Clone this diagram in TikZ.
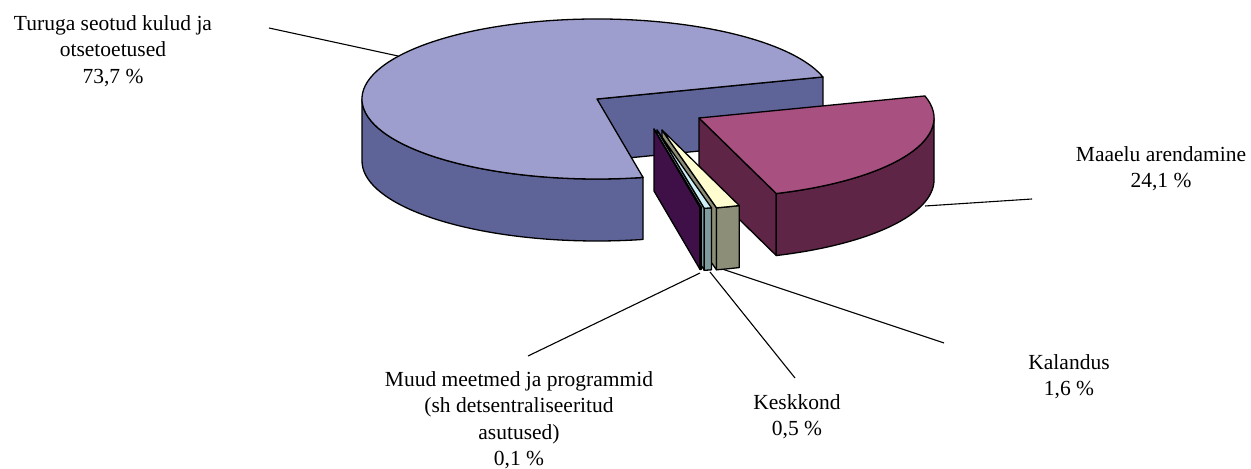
\documentclass[tikz,border=0pt]{standalone}
\usepackage{fontspec}
\setmainfont{Liberation Serif}
\definecolor{turtop}{HTML}{9E9ECE}
\definecolor{turside}{HTML}{5F6498}
\definecolor{maatop}{HTML}{A8507F}
\definecolor{maaside}{HTML}{5E2546}
\definecolor{kaltop}{HTML}{FFFDD0}
\definecolor{kalside}{HTML}{8C8E78}
\definecolor{kesktop}{HTML}{CFF0F7}
\definecolor{keskside}{HTML}{7E9C9E}
\definecolor{muudtop}{HTML}{7A2684}
\definecolor{muudside}{HTML}{64166E}
\definecolor{muudrad}{HTML}{3F1048}
\begin{document}
\begin{tikzpicture}[x=0.5pt,y=0.5pt,
  face/.style={draw=black,line width=0.65pt,line join=round},
  leader/.style={draw=black,line width=0.55pt},
  lbl/.style={align=center,inner sep=0pt,font=\fontsize{10.75}{13.25}\selectfont}]
\useasboundingbox (0,-469) rectangle (1251,0);
% leader lines
\coordinate (turuga-end) at (269,-28);
\coordinate (turuga-tip) at (398,-56);
\coordinate (maaelu-end) at (1032,-199);
\coordinate (maaelu-tip) at (925,-206);
\coordinate (kalandus-end) at (944,-343);
\coordinate (kalandus-tip) at (722,-269);
\coordinate (keskkond-end) at (795,-378);
\coordinate (keskkond-tip) at (710,-272);
\coordinate (muud-end) at (528,-356);
\coordinate (muud-tip) at (700,-273);
\foreach \n in {turuga,maaelu,kalandus,keskkond,muud}
  \draw[leader] (\n-end) -- (\n-tip);
% Turuga seotud kulud ja otsetoetused
\begin{scope}[shift={(597,-99)}]
 \filldraw[face,fill=turside] (0,0) -- (16:235 and 80) -- ++(0,-62) -- (0,-62) -- cycle;
 \filldraw[face,fill=turside] (180:235 and 80) arc[start angle=180,end angle=281.3,x radius=235,y radius=80]
  -- ++(0,-62) arc[start angle=281.3,end angle=180,x radius=235,y radius=80] -- cycle;
 \filldraw[face,fill=turtop] (0,0) -- (16:235 and 80)
  arc[start angle=16,end angle=281.3,x radius=235,y radius=80] -- cycle;
\end{scope}
% the other slices, pulled out
\foreach \cx/\cy/\a/\b/\e/\ctop/\cside/\crad in {
  699/118/-70.8/16/0/maatop/maaside/maaside,
  662/130/-76.6/-70.8/-70.8/kaltop/kalside/kalside,
  657/130/-78.4/-76.6/-76.6/kesktop/keskside/keskside,
  654/129/-78.7/-78.4/-78.4/muudtop/muudside/muudrad} {
 \begin{scope}[shift={(\cx,-\cy)}]
  \filldraw[face,fill=\crad] (0,0) -- (\a:235 and 80) -- ++(0,-62) -- (0,-62) -- cycle;
  \filldraw[face,fill=\cside] (\a:235 and 80) arc[start angle=\a,end angle=\e,x radius=235,y radius=80]
   -- ++(0,-62) arc[start angle=\e,end angle=\a,x radius=235,y radius=80] -- cycle;
  \filldraw[face,fill=\ctop] (0,0) -- (\a:235 and 80)
   arc[start angle=\a,end angle=\b,x radius=235,y radius=80] -- cycle;
 \end{scope}
}
% labels
\node[lbl] (turuga) at (113,-51) {Turuga seotud kulud ja\\otsetoetused\\73,7~\%};
\node[lbl] (maaelu) at (1161,-168.5) {Maaelu arendamine\\24,1~\%};
\node[lbl] (kalandus) at (1069,-376.5) {Kalandus\\1,6~\%};
\node[lbl] (keskkond) at (797,-416.5) {Keskkond\\0,5~\%};
\node[lbl] (muud) at (519,-420) {Muud meetmed ja programmid\\(sh detsentraliseeritud\\asutused)\\0,1~\%};
\end{tikzpicture}
\end{document}
